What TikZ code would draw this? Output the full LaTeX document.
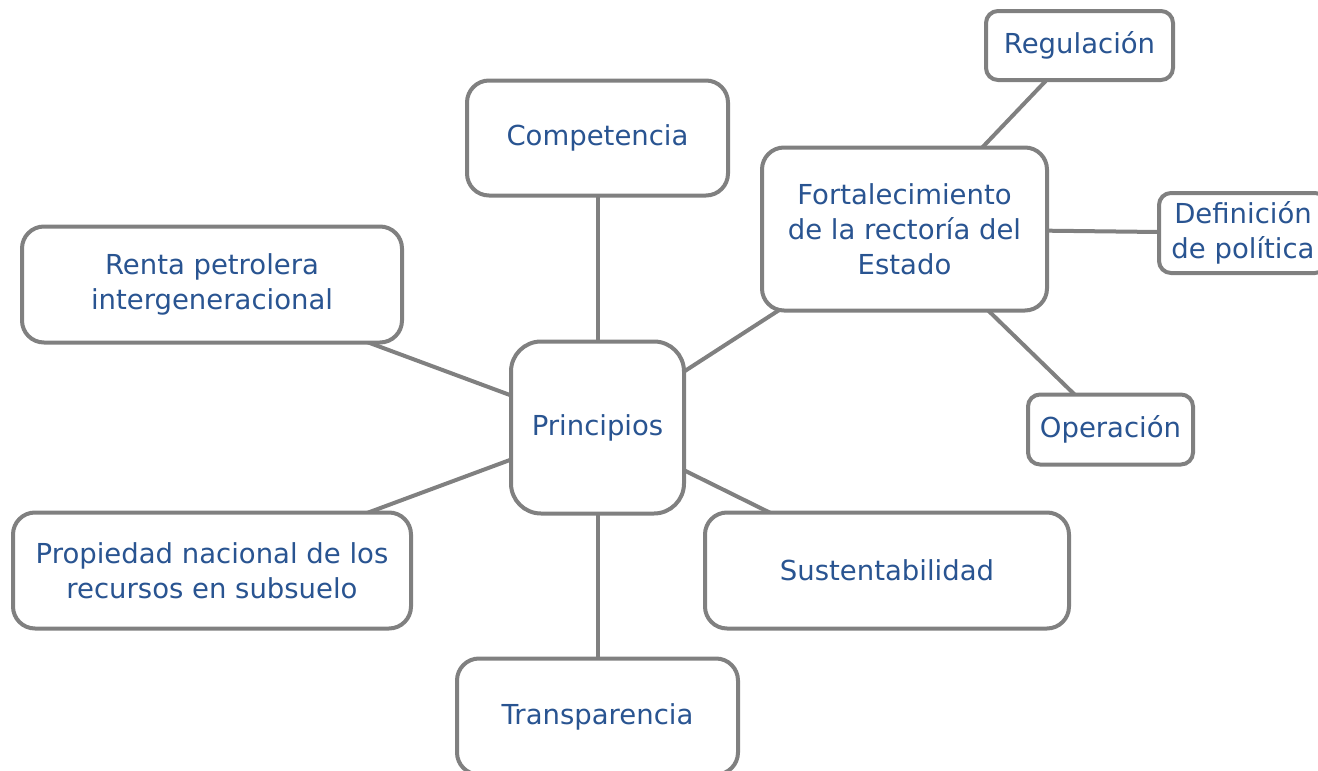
\documentclass[tikz,border=0pt]{standalone}
\usepackage{fontspec}
\setmainfont{DejaVu Sans}
\usetikzlibrary{backgrounds}
\definecolor{boxline}{RGB}{128,128,128}
\definecolor{txt}{RGB}{41,84,145}
\begin{document}
\begin{tikzpicture}[x=1pt,y=-1pt,
  box/.style={draw=boxline, line width=4pt, fill=white, rounded corners=#1,
    inner sep=0pt, align=center, text=txt, font=\fontsize{27.5}{35}\selectfont},
  box/.default=22pt,
  link/.style={draw=boxline, line width=4pt}]
\useasboundingbox (0,0) rectangle (1318,771);
\clip (0,0) rectangle (1318,771);
\node[box, minimum width=261, minimum height=115] (comp) at (597.5,138) {Competencia};
\node[box=12pt, minimum width=187, minimum height=69] (regu) at (1079.5,45.5) {Regulación};
\node[box, minimum width=285, minimum height=163] (fort) at (904.5,229) {Fortalecimiento\\de la rectoría del\\Estado};
\node[box=12pt, minimum width=168, minimum height=80] (defi) at (1243,233) {Definición\\de política};
\node[box, minimum width=380, minimum height=116] (renta) at (212,284.5) {Renta petrolera\\intergeneracional};
\node[box=30pt, minimum width=173, minimum height=172] (prin) at (597.5,427.5) {Principios};
\node[box=12pt, minimum width=165, minimum height=70] (oper) at (1110.5,429.5) {Operación};
\node[box, minimum width=398, minimum height=116] (prop) at (212,570.5) {Propiedad nacional de los\\recursos en subsuelo};
\node[box, minimum width=364, minimum height=116] (sust) at (887,570.5) {Sustentabilidad};
\node[box, minimum width=281, minimum height=116] (trans) at (597.5,716.5) {Transparencia};
\begin{pgfonlayer}{background}
\draw[link] (prin.center) -- (comp.center);
\draw[link] (prin.center) -- (renta.center);
\draw[link] (prin.center) -- (prop.center);
\draw[link] (prin.center) -- (fort.center);
\draw[link] (prin.center) -- (sust.center);
\draw[link] (prin.center) -- (trans.center);
\draw[link] (fort.center) -- (regu.center);
\draw[link] (fort.center) -- (defi.center);
\draw[link] (fort.center) -- (oper.center);
\end{pgfonlayer}
\end{tikzpicture}
\end{document}
